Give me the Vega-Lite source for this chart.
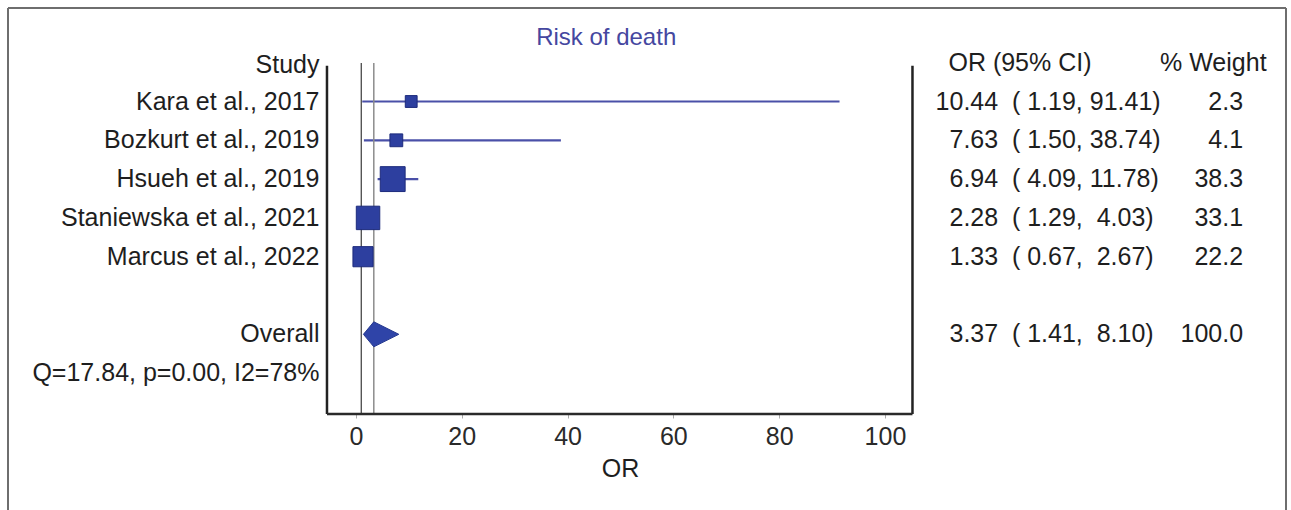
{
  "$schema": "https://vega.github.io/schema/vega-lite/v6.json",
  "width": 1278,
  "height": 406,
  "autosize": {"type": "none"},
  "padding": {"left": 8, "top": 8, "right": 5, "bottom": 96},
  "background": "white",
  "config": {
    "view": {"stroke": null},
    "text": {"font": "Liberation Sans", "fontSize": 25, "color": "#1e1e1e"},
    "axisX": {"domain": false, "grid": false, "ticks": true, "tickSize": 4, "tickColor": "#aaaaaa", "labelFont": "Liberation Sans", "labelFontSize": 25, "labelColor": "#2a2a2a", "labelPadding": 6}
  },
  "datasets": {
    "forest": [
      {"study": "Kara et al., 2017", "row": 1, "or": 10.44, "lo": 1.19, "hi": 91.41, "weight": 2.3, "interval": "( 1.19, 91.41)", "kind": "study"},
      {"study": "Bozkurt et al., 2019", "row": 2, "or": 7.63, "lo": 1.50, "hi": 38.74, "weight": 4.1, "interval": "( 1.50, 38.74)", "kind": "study"},
      {"study": "Hsueh et al., 2019", "row": 3, "or": 6.94, "lo": 4.09, "hi": 11.78, "weight": 38.3, "interval": "( 4.09, 11.78)", "kind": "study"},
      {"study": "Staniewska et al., 2021", "row": 4, "or": 2.28, "lo": 1.29, "hi": 4.03, "weight": 33.1, "interval": "( 1.29, \u00a04.03)", "kind": "study"},
      {"study": "Marcus et al., 2022", "row": 5, "or": 1.33, "lo": 0.67, "hi": 2.67, "weight": 22.2, "interval": "( 0.67, \u00a02.67)", "kind": "study"},
      {"study": "Overall", "row": 7, "or": 3.37, "lo": 1.41, "hi": 8.10, "weight": 100.0, "interval": "( 1.41, \u00a08.10)", "kind": "overall"},
      {"study": "Q=17.84, p=0.00, I2=78%", "row": 8, "kind": "het"}
    ]
  },
  "layer": [
    {
      "data": {"name": "forest"},
      "transform": [{"filter": "datum.kind === 'study'"}],
      "mark": {"type": "rule", "stroke": "#4a50a8", "strokeWidth": 2.2},
      "encoding": {
        "x": {"field": "lo", "type": "quantitative", "scale": {"domain": [-65.78, 175.81], "nice": false, "zero": false}, "axis": {"values": [0, 20, 40, 60, 80, 100], "title": null}},
        "x2": {"field": "hi"},
        "y": {"field": "row", "type": "quantitative", "scale": {"domain": [-1.41, 9.054], "reverse": true, "nice": false, "zero": false}, "axis": null}
      }
    },
    {
      "data": {"values": [{}]},
      "mark": {"type": "rule", "stroke": "#6e6e6e", "strokeWidth": 2},
      "encoding": {
        "x": {"datum": -65.78, "type": "quantitative", "scale": {"domain": [-65.78, 175.81], "nice": false, "zero": false}, "axis": {"values": [0, 20, 40, 60, 80, 100], "title": null}},
        "y": {"datum": -1.41, "type": "quantitative", "scale": {"domain": [-1.41, 9.054], "reverse": true, "nice": false, "zero": false}, "axis": null},
        "y2": {"datum": 11.6}
      }
    },
    {
      "data": {"values": [{}]},
      "mark": {"type": "rule", "stroke": "#6e6e6e", "strokeWidth": 2},
      "encoding": {
        "x": {"datum": 175.81, "type": "quantitative", "scale": {"domain": [-65.78, 175.81], "nice": false, "zero": false}, "axis": {"values": [0, 20, 40, 60, 80, 100], "title": null}},
        "y": {"datum": -1.41, "type": "quantitative", "scale": {"domain": [-1.41, 9.054], "reverse": true, "nice": false, "zero": false}, "axis": null},
        "y2": {"datum": 11.6}
      }
    },
    {
      "data": {"values": [{}]},
      "mark": {"type": "rule", "stroke": "#6e6e6e", "strokeWidth": 2},
      "encoding": {
        "x": {"datum": -65.78, "type": "quantitative", "scale": {"domain": [-65.78, 175.81], "nice": false, "zero": false}, "axis": {"values": [0, 20, 40, 60, 80, 100], "title": null}},
        "x2": {"datum": 175.81},
        "y": {"datum": -1.41, "type": "quantitative", "scale": {"domain": [-1.41, 9.054], "reverse": true, "nice": false, "zero": false}, "axis": null}
      }
    },
    {
      "data": {"values": [{}]},
      "mark": {"type": "rule", "stroke": "#3a3a3a", "strokeWidth": 1.2},
      "encoding": {
        "x": {"datum": 1, "type": "quantitative", "scale": {"domain": [-65.78, 175.81], "nice": false, "zero": false}, "axis": {"values": [0, 20, 40, 60, 80, 100], "title": null}},
        "y": {"datum": 0.008, "type": "quantitative", "scale": {"domain": [-1.41, 9.054], "reverse": true, "nice": false, "zero": false}, "axis": null},
        "y2": {"datum": 9.054}
      }
    },
    {
      "data": {"name": "forest"},
      "transform": [{"filter": "datum.kind === 'overall'"}],
      "mark": {"type": "rule", "stroke": "#8c8c8c", "strokeWidth": 1.5},
      "encoding": {
        "x": {"field": "or", "type": "quantitative", "scale": {"domain": [-65.78, 175.81], "nice": false, "zero": false}, "axis": {"values": [0, 20, 40, 60, 80, 100], "title": null}},
        "y": {"datum": 0.008, "type": "quantitative", "scale": {"domain": [-1.41, 9.054], "reverse": true, "nice": false, "zero": false}, "axis": null},
        "y2": {"datum": 9.054}
      }
    },
    {
      "data": {"values": [{}]},
      "mark": {"type": "rule", "stroke": "#222222", "strokeWidth": 2.5},
      "encoding": {
        "x": {"datum": -5.48, "type": "quantitative", "scale": {"domain": [-65.78, 175.81], "nice": false, "zero": false}, "axis": {"values": [0, 20, 40, 60, 80, 100], "title": null}},
        "y": {"datum": 0.077, "type": "quantitative", "scale": {"domain": [-1.41, 9.054], "reverse": true, "nice": false, "zero": false}, "axis": null},
        "y2": {"datum": 9.054}
      }
    },
    {
      "data": {"values": [{}]},
      "mark": {"type": "rule", "stroke": "#222222", "strokeWidth": 2.5},
      "encoding": {
        "x": {"datum": 105.2, "type": "quantitative", "scale": {"domain": [-65.78, 175.81], "nice": false, "zero": false}, "axis": {"values": [0, 20, 40, 60, 80, 100], "title": null}},
        "y": {"datum": 0.077, "type": "quantitative", "scale": {"domain": [-1.41, 9.054], "reverse": true, "nice": false, "zero": false}, "axis": null},
        "y2": {"datum": 9.054}
      }
    },
    {
      "data": {"values": [{}]},
      "mark": {"type": "rule", "stroke": "#2a2a2a", "strokeWidth": 2.5},
      "encoding": {
        "x": {"datum": -5.48, "type": "quantitative", "scale": {"domain": [-65.78, 175.81], "nice": false, "zero": false}, "axis": {"values": [0, 20, 40, 60, 80, 100], "title": null}},
        "x2": {"datum": 105.2},
        "y": {"datum": 9.054, "type": "quantitative", "scale": {"domain": [-1.41, 9.054], "reverse": true, "nice": false, "zero": false}, "axis": null}
      }
    },
    {
      "data": {"name": "forest"},
      "transform": [{"filter": "datum.kind === 'study'"}],
      "mark": {"type": "point", "shape": "square", "filled": true, "fill": "#2d3f9f", "stroke": "#1d2b7c", "strokeWidth": 1, "opacity": 1},
      "encoding": {
        "x": {"field": "or", "type": "quantitative", "scale": {"domain": [-65.78, 175.81], "nice": false, "zero": false}, "axis": {"values": [0, 20, 40, 60, 80, 100], "title": null}},
        "y": {"field": "row", "type": "quantitative", "scale": {"domain": [-1.41, 9.054], "reverse": true, "nice": false, "zero": false}, "axis": null},
        "size": {"field": "weight", "type": "quantitative", "scale": {"domain": [2.3, 38.3], "range": [140, 620], "zero": false}, "legend": null}
      }
    },
    {
      "data": {"name": "forest"},
      "transform": [{"filter": "datum.kind === 'overall'"}],
      "mark": {"type": "point", "shape": "M -0.83 0 L 0 -1 L 2 0 L 0 1 Z", "size": 625, "filled": true, "fill": "#2f44a8", "stroke": "#26398f", "strokeWidth": 1, "opacity": 1},
      "encoding": {
        "x": {"field": "or", "type": "quantitative", "scale": {"domain": [-65.78, 175.81], "nice": false, "zero": false}, "axis": {"values": [0, 20, 40, 60, 80, 100], "title": null}},
        "y": {"field": "row", "type": "quantitative", "scale": {"domain": [-1.41, 9.054], "reverse": true, "nice": false, "zero": false}, "axis": null}
      }
    },
    {
      "data": {"name": "forest"},
      "mark": {"type": "text", "align": "right", "baseline": "middle"},
      "encoding": {
        "x": {"datum": -6.9, "type": "quantitative", "scale": {"domain": [-65.78, 175.81], "nice": false, "zero": false}, "axis": {"values": [0, 20, 40, 60, 80, 100], "title": null}},
        "y": {"field": "row", "type": "quantitative", "scale": {"domain": [-1.41, 9.054], "reverse": true, "nice": false, "zero": false}, "axis": null},
        "text": {"field": "study"}
      }
    },
    {
      "data": {"name": "forest"},
      "transform": [{"filter": "datum.kind !== 'het'"}],
      "mark": {"type": "text", "align": "right", "baseline": "middle"},
      "encoding": {
        "x": {"datum": 121.4, "type": "quantitative", "scale": {"domain": [-65.78, 175.81], "nice": false, "zero": false}, "axis": {"values": [0, 20, 40, 60, 80, 100], "title": null}},
        "y": {"field": "row", "type": "quantitative", "scale": {"domain": [-1.41, 9.054], "reverse": true, "nice": false, "zero": false}, "axis": null},
        "text": {"field": "or", "format": ".2f"}
      }
    },
    {
      "data": {"name": "forest"},
      "transform": [{"filter": "datum.kind !== 'het'"}],
      "mark": {"type": "text", "align": "left", "baseline": "middle"},
      "encoding": {
        "x": {"datum": 124.0, "type": "quantitative", "scale": {"domain": [-65.78, 175.81], "nice": false, "zero": false}, "axis": {"values": [0, 20, 40, 60, 80, 100], "title": null}},
        "y": {"field": "row", "type": "quantitative", "scale": {"domain": [-1.41, 9.054], "reverse": true, "nice": false, "zero": false}, "axis": null},
        "text": {"field": "interval"}
      }
    },
    {
      "data": {"name": "forest"},
      "transform": [{"filter": "datum.kind !== 'het'"}],
      "mark": {"type": "text", "align": "right", "baseline": "middle"},
      "encoding": {
        "x": {"datum": 167.7, "type": "quantitative", "scale": {"domain": [-65.78, 175.81], "nice": false, "zero": false}, "axis": {"values": [0, 20, 40, 60, 80, 100], "title": null}},
        "y": {"field": "row", "type": "quantitative", "scale": {"domain": [-1.41, 9.054], "reverse": true, "nice": false, "zero": false}, "axis": null},
        "text": {"field": "weight", "format": ".1f"}
      }
    },
    {
      "data": {"values": [{}]},
      "mark": {"type": "text", "align": "right", "baseline": "middle", "text": "Study"},
      "encoding": {
        "x": {"datum": -6.9, "type": "quantitative", "scale": {"domain": [-65.78, 175.81], "nice": false, "zero": false}, "axis": {"values": [0, 20, 40, 60, 80, 100], "title": null}},
        "y": {"datum": 0.06, "type": "quantitative", "scale": {"domain": [-1.41, 9.054], "reverse": true, "nice": false, "zero": false}, "axis": null}
      }
    },
    {
      "data": {"values": [{}]},
      "mark": {"type": "text", "align": "left", "baseline": "middle", "text": "OR (95% CI)"},
      "encoding": {
        "x": {"datum": 112.0, "type": "quantitative", "scale": {"domain": [-65.78, 175.81], "nice": false, "zero": false}, "axis": {"values": [0, 20, 40, 60, 80, 100], "title": null}},
        "y": {"datum": 0.008, "type": "quantitative", "scale": {"domain": [-1.41, 9.054], "reverse": true, "nice": false, "zero": false}, "axis": null}
      }
    },
    {
      "data": {"values": [{}]},
      "mark": {"type": "text", "align": "left", "baseline": "middle", "text": "% Weight"},
      "encoding": {
        "x": {"datum": 152.0, "type": "quantitative", "scale": {"domain": [-65.78, 175.81], "nice": false, "zero": false}, "axis": {"values": [0, 20, 40, 60, 80, 100], "title": null}},
        "y": {"datum": 0.008, "type": "quantitative", "scale": {"domain": [-1.41, 9.054], "reverse": true, "nice": false, "zero": false}, "axis": null}
      }
    },
    {
      "data": {"values": [{}]},
      "mark": {"type": "text", "align": "center", "baseline": "middle", "text": "Risk of death", "color": "#4547a0", "fontSize": 24},
      "encoding": {
        "x": {"datum": 47.3, "type": "quantitative", "scale": {"domain": [-65.78, 175.81], "nice": false, "zero": false}, "axis": {"values": [0, 20, 40, 60, 80, 100], "title": null}},
        "y": {"datum": -0.637, "type": "quantitative", "scale": {"domain": [-1.41, 9.054], "reverse": true, "nice": false, "zero": false}, "axis": null}
      }
    },
    {
      "data": {"values": [{}]},
      "mark": {"type": "text", "align": "center", "baseline": "middle", "text": "OR"},
      "encoding": {
        "x": {"datum": 50, "type": "quantitative", "scale": {"domain": [-65.78, 175.81], "nice": false, "zero": false}, "axis": {"values": [0, 20, 40, 60, 80, 100], "title": null}},
        "y": {"datum": 10.47, "type": "quantitative", "scale": {"domain": [-1.41, 9.054], "reverse": true, "nice": false, "zero": false}, "axis": null}
      }
    }
  ]
}
